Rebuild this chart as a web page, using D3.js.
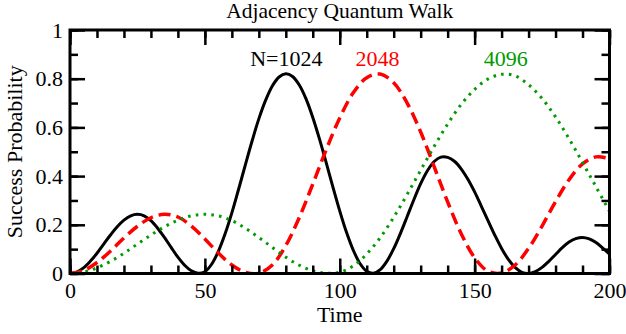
<!DOCTYPE html>
<html>
<head>
<meta charset="utf-8">
<script src="https://cdn.jsdelivr.net/npm/d3@7"></script>
<style>
  html, body { margin: 0; padding: 0; background: #fff; }
  svg { display: block; }
  text { font-family: "Liberation Serif", "Times New Roman", serif; }
</style>
</head>
<body>
<svg id="chart" width="626" height="334"></svg>
<script>
// ---------- data ----------
const title = "Adjacency Quantum Walk";
const xLabel = "Time";
const yLabel = "Success Probability";

// N = 1024, sampled every 2.5 time units from 0 to 200
const timeN1024 = d3.range(0, 200.01, 2.5);
const probN1024 = [
  0.000, 0.006, 0.023, 0.050, 0.083, 0.121, 0.158, 0.192, 0.219, 0.237,
  0.243, 0.237, 0.217, 0.186, 0.148, 0.107, 0.067, 0.034, 0.011, 0.001,
  0.007, 0.038, 0.091, 0.163, 0.249, 0.346, 0.446, 0.544, 0.635, 0.711,
  0.770, 0.807, 0.820, 0.809, 0.774, 0.717, 0.641, 0.552, 0.454, 0.354,
  0.257, 0.169, 0.096, 0.041, 0.009, 0.001, 0.016, 0.051, 0.102, 0.165,
  0.234, 0.304, 0.369, 0.422, 0.460, 0.478, 0.477, 0.461, 0.430, 0.387,
  0.335, 0.276, 0.216, 0.157, 0.103, 0.058, 0.025, 0.005, 0.000, 0.008,
  0.025, 0.050, 0.078, 0.106, 0.129, 0.143, 0.148, 0.142, 0.127, 0.104,
  0.080
];

// N = 2048, sampled every 5 time units
const timeN2048 = d3.range(0, 200.01, 5);
const probN2048 = [
  0.000, 0.012, 0.045, 0.092, 0.146, 0.194, 0.229, 0.243, 0.232, 0.195,
  0.142, 0.084, 0.035, 0.005, 0.001, 0.035, 0.115, 0.230, 0.367, 0.509,
  0.639, 0.742, 0.804, 0.819, 0.783, 0.700, 0.581, 0.439, 0.294, 0.164,
  0.065, 0.009, 0.002, 0.035, 0.103, 0.195, 0.295, 0.385, 0.450, 0.479,
  0.472
];

// N = 4096, sampled every 5 time units
const timeN4096 = d3.range(0, 200.01, 5);
const probN4096 = [
  0.000, 0.006, 0.023, 0.050, 0.083, 0.121, 0.158, 0.192, 0.219, 0.237,
  0.243, 0.237, 0.217, 0.186, 0.148, 0.107, 0.067, 0.034, 0.011, 0.001,
  0.005, 0.031, 0.080, 0.147, 0.231, 0.325, 0.424, 0.522, 0.614, 0.694,
  0.756, 0.799, 0.818, 0.812, 0.775, 0.719, 0.643, 0.554, 0.456, 0.356,
  0.255
];

const seriesNames = ["N=1024", "2048", "4096"];
const seriesColors = ["#000000", "#ff0000", "#009a00"];

const xMajorTicks = [0, 50, 100, 150, 200];
const xMinorTicks = d3.range(0, 201, 10);
const yMajorTicks = [0, 0.2, 0.4, 0.6, 0.8, 1];
const yMinorTicks = d3.range(0, 1.001, 0.1);
const yTickLabels = ["0", "0.2", "0.4", "0.6", "0.8", "1"];

// ---------- layout ----------
const svg = d3.select("#chart");
const L = 70, R = 609.5, T = 30, B = 273.5;

const x = d3.scaleLinear().domain([0, 200]).range([L, R]);
const y = d3.scaleLinear().domain([0, 1]).range([B, T]).clamp(true);

const series = [
  { name: seriesNames[0], t: timeN1024, p: probN1024, color: seriesColors[0], dash: null, width: 3 },
  { name: seriesNames[1], t: timeN2048, p: probN2048, color: seriesColors[1], dash: "12,6", width: 3.5 },
  { name: seriesNames[2], t: timeN4096, p: probN4096, color: seriesColors[2], dash: "2.6,5.2", width: 3 }
];

svg.append("defs").append("clipPath").attr("id", "clip")
  .append("rect").attr("x", L).attr("y", T - 2).attr("width", R - L).attr("height", B - T + 2);

const line = d3.line()
  .x(d => x(d[0]))
  .y(d => y(d[1]))
  .curve(d3.curveCatmullRom.alpha(0.5));

const g = svg.append("g").attr("clip-path", "url(#clip)");
series.forEach(s => {
  g.append("path")
    .datum(s.t.map((t, i) => [t, s.p[i]]))
    .attr("fill", "none")
    .attr("stroke", s.color)
    .attr("stroke-width", s.width)
    .attr("stroke-dasharray", s.dash)
    .attr("stroke-linejoin", "round")
    .attr("d", line);
});

// ---------- axes ----------
const fontSize = 22;
function styleAxis(sel) {
  sel.select(".domain").remove();
  sel.selectAll(".tick line").attr("stroke", "#000").attr("stroke-width", 2.5);
  sel.selectAll(".tick text").attr("font-size", fontSize).attr("fill", "#000")
     .style("font-family", '"Liberation Serif", "Times New Roman", serif');
}
const major = 15, minor = 8;

// bottom
svg.append("g").attr("transform", `translate(0,${B})`)
  .call(d3.axisBottom(x).tickValues(xMinorTicks).tickSize(-minor).tickFormat(""))
  .call(styleAxis);
svg.append("g").attr("transform", `translate(0,${B})`)
  .call(d3.axisBottom(x).tickValues(xMajorTicks).tickSize(-major).tickPadding(8.5).tickFormat(d3.format("d")))
  .call(styleAxis);
// top
svg.append("g").attr("transform", `translate(0,${T})`)
  .call(d3.axisTop(x).tickValues(xMinorTicks).tickSize(-minor).tickFormat(""))
  .call(styleAxis);
svg.append("g").attr("transform", `translate(0,${T})`)
  .call(d3.axisTop(x).tickValues(xMajorTicks).tickSize(-major).tickFormat(""))
  .call(styleAxis);
// left
svg.append("g").attr("transform", `translate(${L},0)`)
  .call(d3.axisLeft(y).tickValues(yMinorTicks).tickSize(-minor).tickFormat(""))
  .call(styleAxis);
svg.append("g").attr("transform", `translate(${L},0)`)
  .call(d3.axisLeft(y).tickValues(yMajorTicks).tickSize(-major).tickPadding(7)
        .tickFormat((d, i) => yTickLabels[i]))
  .call(styleAxis);
// right
svg.append("g").attr("transform", `translate(${R},0)`)
  .call(d3.axisRight(y).tickValues(yMinorTicks).tickSize(-minor).tickFormat(""))
  .call(styleAxis);
svg.append("g").attr("transform", `translate(${R},0)`)
  .call(d3.axisRight(y).tickValues(yMajorTicks).tickSize(-major).tickFormat(""))
  .call(styleAxis);

// frame
svg.append("rect")
  .attr("x", L).attr("y", T).attr("width", R - L).attr("height", B - T)
  .attr("fill", "none").attr("stroke", "#000").attr("stroke-width", 3);

// ---------- texts ----------
svg.append("text").attr("x", (L + R) / 2).attr("y", 18)
  .attr("text-anchor", "middle").attr("font-size", 21.5).attr("fill", "#000").text(title);

svg.append("text").attr("x", (L + R) / 2).attr("y", 322)
  .attr("text-anchor", "middle").attr("font-size", fontSize).attr("fill", "#000").text(xLabel);

svg.append("text")
  .attr("transform", `translate(22,${(T + B) / 2}) rotate(-90)`)
  .attr("text-anchor", "middle").attr("font-size", fontSize).attr("fill", "#000").text(yLabel);

// series labels
const labelPos = [[80.2, 0.852], [114, 0.852], [161.5, 0.852]];
series.forEach((s, i) => {
  svg.append("text")
    .attr("x", x(labelPos[i][0]))
    .attr("y", y(labelPos[i][1]))
    .attr("text-anchor", "middle")
    .attr("font-size", fontSize)
    .attr("fill", s.color)
    .text(s.name);
});
</script>
</body>
</html>
